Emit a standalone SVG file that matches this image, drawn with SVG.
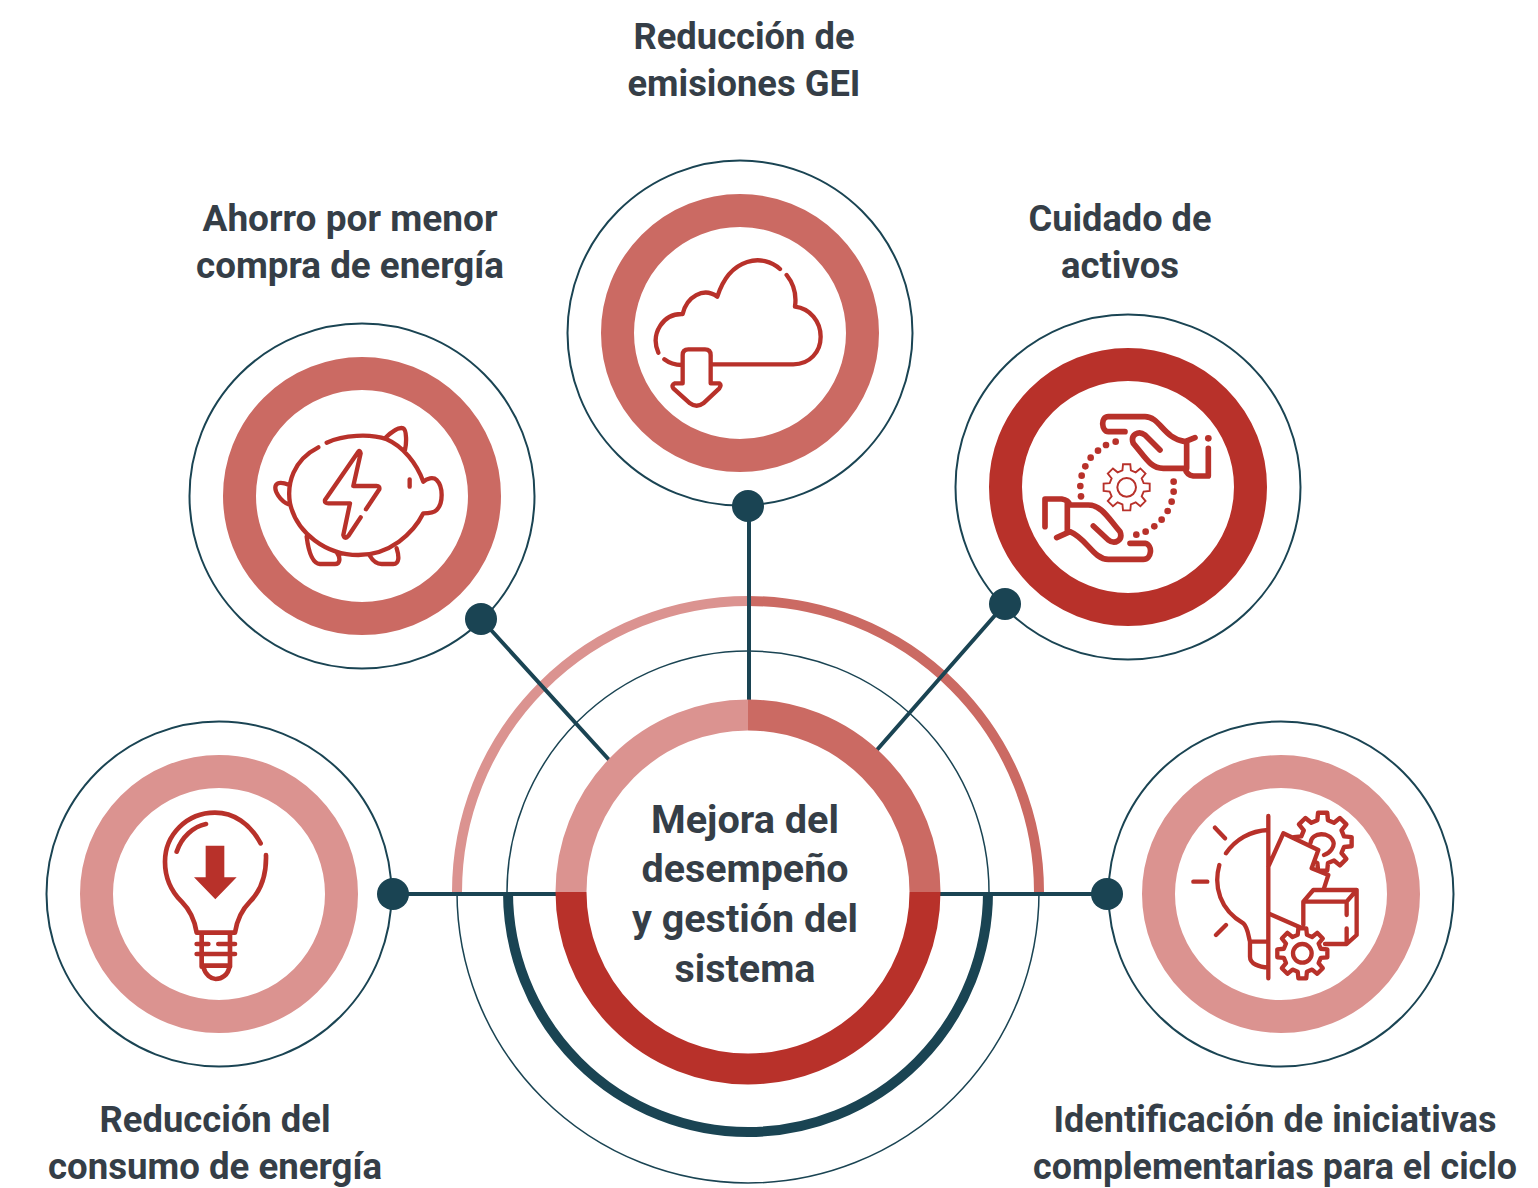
<svg xmlns="http://www.w3.org/2000/svg" xmlns:xlink="http://www.w3.org/1999/xlink" width="1538" height="1188" viewBox="0 0 1538 1188">
<style>
.lbl{font-family:Roboto,"Liberation Sans",sans-serif;font-weight:700;font-size:36px;fill:#353e47;text-anchor:middle}
.ctr{font-size:38px}
.out{fill:#fff;stroke:#1a4453;stroke-width:2}
.ring{fill:none;stroke-width:33}
.ico{fill:none;stroke:#b8312a;stroke-width:13;stroke-linecap:round;stroke-linejoin:round}
.dk{stroke:#b8312a}.md{stroke:#cb6a63}.lt{stroke:#db9390}
.con{fill:none;stroke:#1a4453;stroke-width:4}
.dot{fill:#1a4453}
</style>
<defs>
<path id="gear" d="M72.8-18.1L98.8-15.6L98.8 15.6L72.8 18.1L64.3 38.7L80.9 58.8L58.8 80.9L38.7 64.3L18.1 72.8L15.6 98.8L-15.6 98.8L-18.1 72.8L-38.7 64.3L-58.8 80.9L-80.9 58.8L-64.3 38.7L-72.8 18.1L-98.8 15.6L-98.8-15.6L-72.8-18.1L-64.3-38.7L-80.9-58.8L-58.8-80.9L-38.7-64.3L-18.1-72.8L-15.6-98.8L15.6-98.8L18.1-72.8L38.7-64.3L58.8-80.9L80.9-58.8L64.3-38.7Z"/>
</defs>
<g id="center-arcs">
<path d="M457 892A291 291 0 0 1 748 601" fill="none" stroke="#db9390" stroke-width="10"/>
<path d="M748 601A291 291 0 0 1 1039 892" fill="none" stroke="#cb6a63" stroke-width="10"/>
<path d="M457 892A291 291 0 0 0 1039 892" fill="none" stroke="#1a4453" stroke-width="1.5"/>
<path d="M507 892A241 241 0 0 1 989 892" fill="none" stroke="#1a4453" stroke-width="1.5"/>
<path d="M508 892A240 240 0 0 0 988 892" fill="none" stroke="#1a4453" stroke-width="10"/>
</g>
<g id="connectors">
<path class="con" d="M393 894H557M940 894H1107M749 506V703M481 619L611 762M1005 604L876 751"/>
</g>
<g id="center">
<path d="M571 892A177 177 0 0 1 748 715" fill="none" stroke="#db9390" stroke-width="31"/>
<path d="M748 715A177 177 0 0 1 925 892" fill="none" stroke="#cb6a63" stroke-width="31"/>
<path d="M571 892A177 177 0 0 0 925 892" fill="none" stroke="#b8312a" stroke-width="31"/>
<text class="lbl ctr" x="745" y="833" textLength="188" lengthAdjust="spacingAndGlyphs">Mejora del</text>
<text class="lbl ctr" x="745" y="882" textLength="207" lengthAdjust="spacingAndGlyphs">desempeño</text>
<text class="lbl ctr" x="745" y="932" textLength="226" lengthAdjust="spacingAndGlyphs">y gestión del</text>
<text class="lbl ctr" x="745" y="982" textLength="141" lengthAdjust="spacingAndGlyphs">sistema</text>
</g>
<g id="node-ahorro">
<circle class="out" cx="362" cy="496" r="172.5"/>
<circle class="ring md" cx="362" cy="496" r="122.5"/>
<g transform="translate(230 400) scale(.3333)"><path class="ico" d="M290 128C340 105 420 100 470 118C520 140 560 190 580 245C590 235 610 230 620 240C640 260 640 310 620 330C610 340 590 340 580 340C550 400 480 465 385 465C290 465 200 400 180 310C170 250 190 180 265 142M465 115C480 100 505 80 520 85C530 90 530 130 525 150M178 255C165 250 145 245 138 255C130 270 150 305 180 315M230 410C235 450 245 490 270 492L315 492C330 492 332 475 322 460M420 468C430 485 440 492 455 492L490 492C508 492 508 470 500 445M539 238V260M392 352L355 408Q345 420 340 405L360 310L295 310Q283 310 285 300L385 155Q390 150 392 160L370 258L440 258Q450 258 448 268L408 328"/></g>
<text class="lbl" x="350" y="231" textLength="295" lengthAdjust="spacingAndGlyphs">Ahorro por menor</text>
<text class="lbl" x="350" y="278" textLength="308" lengthAdjust="spacingAndGlyphs">compra de energía</text>
</g>
<g id="node-emisiones">
<circle class="out" cx="740" cy="333" r="172.5"/>
<circle class="ring md" cx="740" cy="333" r="122.5"/>
<g transform="translate(630 240) scale(.3333)"><path class="ico" d="M450 87C400 40 300 50 262 170C220 140 170 170 158 222C100 220 60 280 85 338M103 358Q125 375 155 375M245 373H490C540 373 572 335 572 290C572 245 540 205 495 200C500 165 490 130 470 105M158 430V345Q158 328 175 328H225Q242 328 242 345V430H268Q275 435 268 445L220 490Q200 505 180 490L130 445Q123 435 135 430H158"/></g>
<text class="lbl" x="744" y="49" textLength="221" lengthAdjust="spacingAndGlyphs">Reducción de</text>
<text class="lbl" x="744" y="96" textLength="233" lengthAdjust="spacingAndGlyphs">emisiones GEI</text>
</g>
<g id="node-activos">
<circle class="out" cx="1128" cy="487" r="172.5"/>
<circle class="ring dk" cx="1128" cy="487" r="122.5"/>
<g transform="translate(1030 400) scale(.3333)">
<path class="ico" style="stroke-width:17" d="M285 95H235C215 95 210 50 235 50H345C390 50 400 115 465 125L495 113M470 125V205M535 145V228H490Q470 225 465 205H400C360 205 345 170 310 130C300 105 325 90 345 105L390 150M300 430H345C370 435 365 478 340 478H235C190 478 170 415 120 395L80 413M112 395V310M45 380V297H95Q115 300 120 315H175C215 315 235 355 270 395C280 420 255 435 235 420L190 378"/>
<g fill="#b8312a"><circle cx="535" cy="115" r="10"/><circle cx="257" cy="125" r="10"/><circle cx="228" cy="135" r="10"/><circle cx="204" cy="152" r="10"/><circle cx="182" cy="173" r="10"/><circle cx="166" cy="199" r="10"/><circle cx="155" cy="227" r="10"/><circle cx="151" cy="258" r="10"/><circle cx="153" cy="289" r="10"/><circle cx="431" cy="245" r="10"/><circle cx="431" cy="275" r="10"/><circle cx="425" cy="305" r="10"/><circle cx="413" cy="333" r="10"/><circle cx="395" cy="359" r="10"/><circle cx="373" cy="379" r="10"/><circle cx="347" cy="395" r="10"/><circle cx="319" cy="404" r="10"/></g>
<use href="#gear" transform="translate(290 262) scale(.7)" fill="none" stroke="#b8312a" stroke-width="8"/>
<circle cx="290" cy="262" r="28" fill="none" stroke="#b8312a" stroke-width="6"/>
</g>
<text class="lbl" x="1120" y="231" textLength="183" lengthAdjust="spacingAndGlyphs">Cuidado de</text>
<text class="lbl" x="1120" y="278" textLength="118" lengthAdjust="spacingAndGlyphs">activos</text>
</g>
<g id="node-consumo">
<circle class="out" cx="219" cy="894" r="172.5"/>
<circle class="ring lt" cx="219" cy="894" r="122.5"/>
<g transform="translate(150 800) scale(.3333)">
<path class="ico" style="stroke-width:14" d="M332 130C300 70 250 38 195 38C110 38 45 105 45 185C45 240 70 280 95 305C120 330 135 365 140 398H255C260 365 275 330 300 305C330 275 350 235 348 165M168 72C130 80 95 110 80 155M140 432H175M205 432H255M140 462H255M155 400V500M240 400V500M155 497H240M160 500C165 525 185 537 197 537C215 537 235 525 238 500"/>
<polygon points="167,137 223,137 223,232 260,232 196,298 132,232 167,232" fill="#b8312a"/>
</g>
<text class="lbl" x="215" y="1132" textLength="231" lengthAdjust="spacingAndGlyphs">Reducción del</text>
<text class="lbl" x="215" y="1179" textLength="334" lengthAdjust="spacingAndGlyphs">consumo de energía</text>
</g>
<g id="node-iniciativas">
<circle class="out" cx="1281" cy="894" r="172.5"/>
<circle class="ring lt" cx="1281" cy="894" r="122.5"/>
<g transform="translate(1180 800) scale(.3333)">
<use href="#gear" transform="translate(428 125) scale(.88)" fill="#fff" stroke="#b8312a" stroke-width="15" stroke-linejoin="round"/>
<path d="M265 200L310 100L415 150L395 205L445 225L432 265H265Z" fill="#fff"/>
<path class="ico" d="M392 128C395 95 450 95 460 125C465 140 450 160 432 165M265 200L310 100L415 150L395 205L445 225L432 265M265 340L360 382M138 160C165 120 210 92 265 90M118 195C100 260 120 330 190 370C205 385 205 410 210 425H265M210 425V470C210 490 235 502 265 502M105 83L135 115M40 245H82M108 405L138 375M265 48V535"/>
<path d="M370 375V305L400 270H530V405L500 432H425V375Z" fill="#fff"/>
<path class="ico" d="M370 375V305L400 270H530V405L500 432H435M370 305H500L530 270M500 305V345M500 385V432"/>
<use href="#gear" transform="translate(367 460) scale(.76)" fill="#fff" stroke="#b8312a" stroke-width="17" stroke-linejoin="round"/>
<circle cx="367" cy="460" r="28" fill="none" stroke="#b8312a" stroke-width="13"/>
</g>
<text class="lbl" x="1275" y="1132" textLength="443" lengthAdjust="spacingAndGlyphs">Identificación de iniciativas</text>
<text class="lbl" x="1275" y="1179" textLength="484" lengthAdjust="spacingAndGlyphs">complementarias para el ciclo</text>
</g>
<g id="dots">
<circle class="dot" cx="393" cy="894" r="16"/><circle class="dot" cx="1107" cy="894" r="16"/><circle class="dot" cx="748" cy="506" r="16"/><circle class="dot" cx="481" cy="619" r="16"/><circle class="dot" cx="1005" cy="604" r="16"/>
</g>
</svg>
